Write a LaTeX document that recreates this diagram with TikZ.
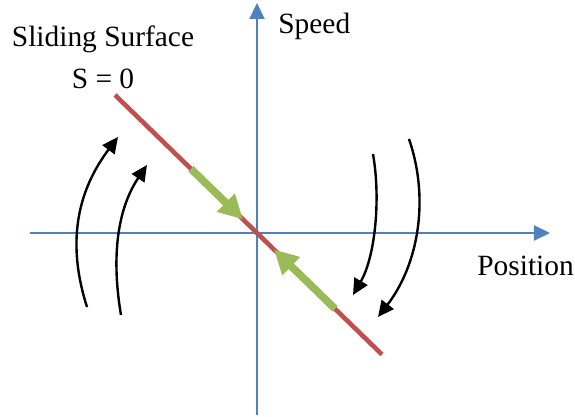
\documentclass[tikz,border=0pt]{standalone}
\usepackage{fontspec}
\setmainfont{Liberation Serif}
\usetikzlibrary{arrows.meta}
\definecolor{axisblue}{RGB}{79,129,189}
\definecolor{surfred}{RGB}{192,80,77}
\definecolor{slidegreen}{RGB}{155,187,89}
\begin{document}
\begin{tikzpicture}[x=0.5pt,y=-0.5pt,
  lbl/.style={inner sep=0pt, font=\fontsize{14.7}{17}\selectfont},
  axisline/.style={draw=axisblue, line width=1.1pt, -{Triangle[length=8pt,width=7.5pt]}},
  surfline/.style={draw=surfred, line width=2.3pt},
  slideline/.style={draw=slidegreen, line width=3.8pt, -{Triangle[length=12pt,width=12pt]}},
  traj/.style={draw=black, line width=1.2pt, -{Triangle[length=8pt,width=7.5pt]}}]
\useasboundingbox (0,0) rectangle (575,417);
% axes
\coordinate (xl) at (30,233);
\coordinate (xr) at (550,233);
\coordinate (yb) at (257,415);
\coordinate (yt) at (257,3);
\draw[axisline] (xl) -- (xr);
\draw[axisline] (yb) -- (yt);
% sliding surface
\coordinate (s0) at (115,95);
\coordinate (s1) at (382,354.5);
\draw[surfline] (s0) -- (s1);
% green sliding arrows
\coordinate (g1a) at (191,168.8);
\coordinate (g1b) at (243,219.4);
\coordinate (g2a) at (335,308.8);
\coordinate (g2b) at (274,249.5);
\draw[slideline] (g1a) -- (g1b);
\draw[slideline] (g2a) -- (g2b);
% trajectories
\coordinate (l1a) at (87,307);
\coordinate (l1b) at (118,137);
\coordinate (l2a) at (121,315);
\coordinate (l2b) at (147,165);
\coordinate (r1a) at (373,154);
\coordinate (r1b) at (353,295);
\coordinate (r2a) at (409,139);
\coordinate (r2b) at (378,317);
\draw[traj] (l1a) .. controls (64,235) and (82,185) .. (l1b);
\draw[traj] (l2a) .. controls (110,250) and (120,205) .. (l2b);
\draw[traj] (r1a) .. controls (381,200) and (375,257) .. (r1b);
\draw[traj] (r2a) .. controls (430,200) and (418,265) .. (r2b);
% labels
\node[lbl, anchor=base] (ss) at (103,47) {Sliding Surface};
\node[lbl, anchor=base] (s0l) at (103,89) {S = 0};
\node[lbl, anchor=base west] (spd) at (278,34) {Speed};
\node[lbl, anchor=base west] (pos) at (477,276) {Position};
\end{tikzpicture}
\end{document}
